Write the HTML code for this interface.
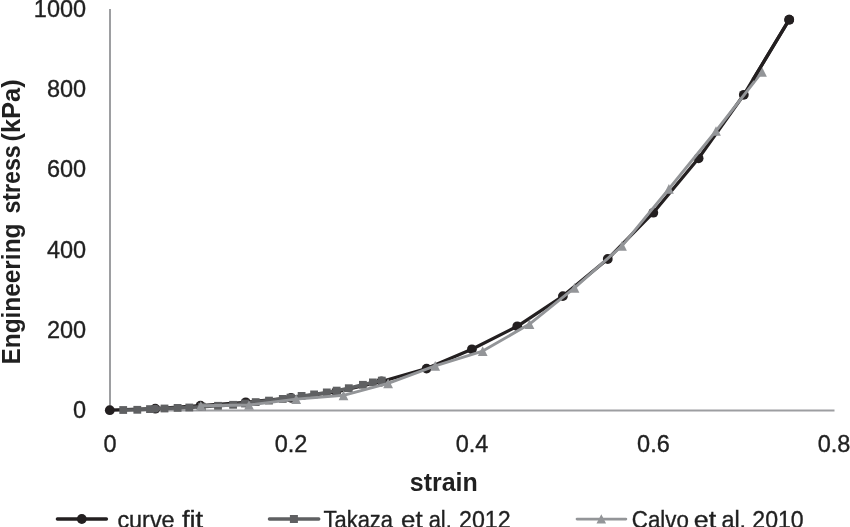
<!DOCTYPE html>
<html><head><meta charset="utf-8"><style>
html,body{margin:0;padding:0;background:#fff;width:850px;height:527px;overflow:hidden;}
svg{display:block;}
</style></head><body>
<svg width="850" height="527" viewBox="0 0 850 527">
<defs><filter id="gs" x="0" y="0" width="850" height="527" filterUnits="userSpaceOnUse"><feColorMatrix type="saturate" values="0"/></filter></defs>
<rect width="850" height="527" fill="#fff"/>
<g stroke="#9d9ea1" stroke-width="2" fill="none">
<line x1="110" y1="9" x2="110" y2="411.5"/>
<line x1="109" y1="410.5" x2="834.5" y2="410.5"/>
</g>
<g filter="url(#gs)" font-family="'Liberation Sans', sans-serif" font-size="23.5" fill="#231f20" stroke="#231f20" stroke-width="0.35" text-anchor="end">
<text x="86.1" y="16.9">1000</text>
<text x="86.1" y="97.1">800</text>
<text x="86.1" y="177.3">600</text>
<text x="86.1" y="257.5">400</text>
<text x="86.1" y="337.7">200</text>
<text x="86.1" y="417.9">0</text>
</g>
<g filter="url(#gs)" font-family="'Liberation Sans', sans-serif" font-size="23.5" fill="#231f20" stroke="#231f20" stroke-width="0.35" text-anchor="middle">
<text x="110" y="451.7">0</text>
<text x="291" y="451.7">0.2</text>
<text x="472" y="451.7">0.4</text>
<text x="653.4" y="451.7">0.6</text>
<text x="834" y="451.7">0.8</text>
</g>
<g filter="url(#gs)" font-family="'Liberation Sans', sans-serif" fill="#231f20"><text x="409.74" y="490.6" font-size="26" font-weight="bold" textLength="68.10" lengthAdjust="spacingAndGlyphs">strain</text></g>
<g filter="url(#gs)"><g transform="translate(19.9,0) rotate(-90)" font-family="'Liberation Sans', sans-serif" font-weight="bold" font-size="25" fill="#231f20"><text x="-364.55" y="0" textLength="140.99" lengthAdjust="spacingAndGlyphs">Engineering</text><text x="-213.53" y="0" textLength="68.25" lengthAdjust="spacingAndGlyphs">stress</text><text x="-141.62" y="0" textLength="62.38" lengthAdjust="spacingAndGlyphs">(kPa)</text></g></g>
<g>
<polyline points="109.80,410.20 155.25,408.70 200.50,405.70 245.75,402.30 291.00,397.90 336.25,391.80 381.50,381.50 426.60,368.60 471.90,349.30 517.30,326.30 562.90,296.10 607.75,259.00 653.30,212.70 698.60,158.30 743.80,94.80 789.20,19.70" fill="none" stroke="#231f20" stroke-width="3.25" stroke-linejoin="round"/>
<circle cx="109.80" cy="410.20" r="4.9" fill="#231f20"/><circle cx="155.25" cy="408.70" r="4.9" fill="#231f20"/><circle cx="200.50" cy="405.70" r="4.9" fill="#231f20"/><circle cx="245.75" cy="402.30" r="4.9" fill="#231f20"/><circle cx="291.00" cy="397.90" r="4.9" fill="#231f20"/><circle cx="336.25" cy="391.80" r="4.9" fill="#231f20"/><circle cx="381.50" cy="381.50" r="4.9" fill="#231f20"/><circle cx="426.60" cy="368.60" r="4.9" fill="#231f20"/><circle cx="471.90" cy="349.30" r="4.9" fill="#231f20"/><circle cx="517.30" cy="326.30" r="4.9" fill="#231f20"/><circle cx="562.90" cy="296.10" r="4.9" fill="#231f20"/><circle cx="607.75" cy="259.00" r="4.9" fill="#231f20"/><circle cx="653.30" cy="212.70" r="4.9" fill="#231f20"/><circle cx="698.60" cy="158.30" r="4.9" fill="#231f20"/><circle cx="743.80" cy="94.80" r="4.9" fill="#231f20"/><circle cx="789.20" cy="19.70" r="4.9" fill="#231f20"/>
<polyline points="123.20,410.00 137.30,409.80 150.00,409.10 164.50,408.50 177.60,407.90 189.30,407.50 201.80,406.70 218.00,405.80 233.10,404.80 245.00,403.50 255.70,402.10 269.00,400.60 282.80,398.90 290.50,397.60 301.60,395.90 314.10,394.40 326.80,392.40 336.70,390.60 348.80,388.20 362.90,384.80 372.90,382.40 381.80,380.60" fill="none" stroke="#5f6062" stroke-width="3.5" stroke-linejoin="round"/>
<rect x="119.30" y="406.10" width="7.8" height="7.8" fill="#5f6062"/><rect x="133.40" y="405.90" width="7.8" height="7.8" fill="#5f6062"/><rect x="146.10" y="405.20" width="7.8" height="7.8" fill="#5f6062"/><rect x="160.60" y="404.60" width="7.8" height="7.8" fill="#5f6062"/><rect x="173.70" y="404.00" width="7.8" height="7.8" fill="#5f6062"/><rect x="185.40" y="403.60" width="7.8" height="7.8" fill="#5f6062"/><rect x="197.90" y="402.80" width="7.8" height="7.8" fill="#5f6062"/><rect x="214.10" y="401.90" width="7.8" height="7.8" fill="#5f6062"/><rect x="229.20" y="400.90" width="7.8" height="7.8" fill="#5f6062"/><rect x="241.10" y="399.60" width="7.8" height="7.8" fill="#5f6062"/><rect x="251.80" y="398.20" width="7.8" height="7.8" fill="#5f6062"/><rect x="265.10" y="396.70" width="7.8" height="7.8" fill="#5f6062"/><rect x="278.90" y="395.00" width="7.8" height="7.8" fill="#5f6062"/><rect x="286.60" y="393.70" width="7.8" height="7.8" fill="#5f6062"/><rect x="297.70" y="392.00" width="7.8" height="7.8" fill="#5f6062"/><rect x="310.20" y="390.50" width="7.8" height="7.8" fill="#5f6062"/><rect x="322.90" y="388.50" width="7.8" height="7.8" fill="#5f6062"/><rect x="332.80" y="386.70" width="7.8" height="7.8" fill="#5f6062"/><rect x="344.90" y="384.30" width="7.8" height="7.8" fill="#5f6062"/><rect x="359.00" y="380.90" width="7.8" height="7.8" fill="#5f6062"/><rect x="369.00" y="378.50" width="7.8" height="7.8" fill="#5f6062"/><rect x="377.90" y="376.70" width="7.8" height="7.8" fill="#5f6062"/>
<polyline points="200.80,405.80 249.00,405.00 296.20,399.10 343.50,395.30 388.10,383.40 435.20,365.80 482.70,351.10 529.50,324.10 574.50,287.80 622.00,245.80 668.90,188.80 716.00,131.00 762.00,71.90" fill="none" stroke="#939598" stroke-width="2.9" stroke-linejoin="round"/>
<polygon points="200.80,400.95 205.70,410.65 195.90,410.65" fill="#939598"/><polygon points="249.00,400.15 253.90,409.85 244.10,409.85" fill="#939598"/><polygon points="296.20,394.25 301.10,403.95 291.30,403.95" fill="#939598"/><polygon points="343.50,390.45 348.40,400.15 338.60,400.15" fill="#939598"/><polygon points="388.10,378.55 393.00,388.25 383.20,388.25" fill="#939598"/><polygon points="435.20,360.95 440.10,370.65 430.30,370.65" fill="#939598"/><polygon points="482.70,346.25 487.60,355.95 477.80,355.95" fill="#939598"/><polygon points="529.50,319.25 534.40,328.95 524.60,328.95" fill="#939598"/><polygon points="574.50,282.95 579.40,292.65 569.60,292.65" fill="#939598"/><polygon points="622.00,240.95 626.90,250.65 617.10,250.65" fill="#939598"/><polygon points="668.90,183.95 673.80,193.65 664.00,193.65" fill="#939598"/><polygon points="716.00,126.15 720.90,135.85 711.10,135.85" fill="#939598"/><polygon points="762.00,67.05 766.90,76.75 757.10,76.75" fill="#939598"/>
<line x1="752.9" y1="79.8" x2="789.2" y2="19.7" stroke="#231f20" stroke-width="3.25"/>
<circle cx="789.2" cy="19.7" r="4.9" fill="#231f20"/>
<circle cx="155.4" cy="408.7" r="3.9" fill="#5f6062"/>
</g>
<g>
<line x1="57.4" y1="519" x2="106.4" y2="519" stroke="#231f20" stroke-width="3.4" stroke-linecap="round"/>
<circle cx="81.8" cy="519" r="4.9" fill="#231f20"/>
<line x1="269.4" y1="519" x2="318.8" y2="519" stroke="#5f6062" stroke-width="3.3" stroke-linecap="round"/>
<rect x="289.9" y="515" width="8" height="8" fill="#5f6062"/>
<line x1="577" y1="519.1" x2="625.9" y2="519.1" stroke="#939598" stroke-width="2.7" stroke-linecap="round"/>
<polygon points="601.3,514.2 606.1,523.6 596.5,523.6" fill="#939598"/>
</g>
<g filter="url(#gs)" font-family="'Liberation Sans', sans-serif" font-size="23.5" fill="#231f20" stroke="#231f20" stroke-width="0.35">
<text x="117.40" y="527.5" font-size="23.5" font-weight="normal" textLength="57.26" lengthAdjust="spacingAndGlyphs">curve</text><text x="181.90" y="527.5" font-size="23.5" font-weight="normal" textLength="21.23" lengthAdjust="spacingAndGlyphs">fit</text><text x="323.57" y="527.5" font-size="23.5" font-weight="normal" textLength="69.44" lengthAdjust="spacingAndGlyphs">Takaza</text><text x="401.00" y="527.5" font-size="23.5" font-weight="normal" textLength="21.57" lengthAdjust="spacingAndGlyphs">et</text><text x="428.67" y="527.5" font-size="23.5" font-weight="normal" textLength="23.14" lengthAdjust="spacingAndGlyphs">al.</text><text x="459.01" y="527.5" font-size="23.5" font-weight="normal" textLength="51.65" lengthAdjust="spacingAndGlyphs">2012</text><text x="631.85" y="527.5" font-size="23.5" font-weight="normal" textLength="56.99" lengthAdjust="spacingAndGlyphs">Calvo</text><text x="693.76" y="527.5" font-size="23.5" font-weight="normal" textLength="22.33" lengthAdjust="spacingAndGlyphs">et</text><text x="721.40" y="527.5" font-size="23.5" font-weight="normal" textLength="24.72" lengthAdjust="spacingAndGlyphs">al.</text><text x="752.32" y="527.5" font-size="23.5" font-weight="normal" textLength="51.36" lengthAdjust="spacingAndGlyphs">2010</text>
</g>
</svg>
</body></html>
